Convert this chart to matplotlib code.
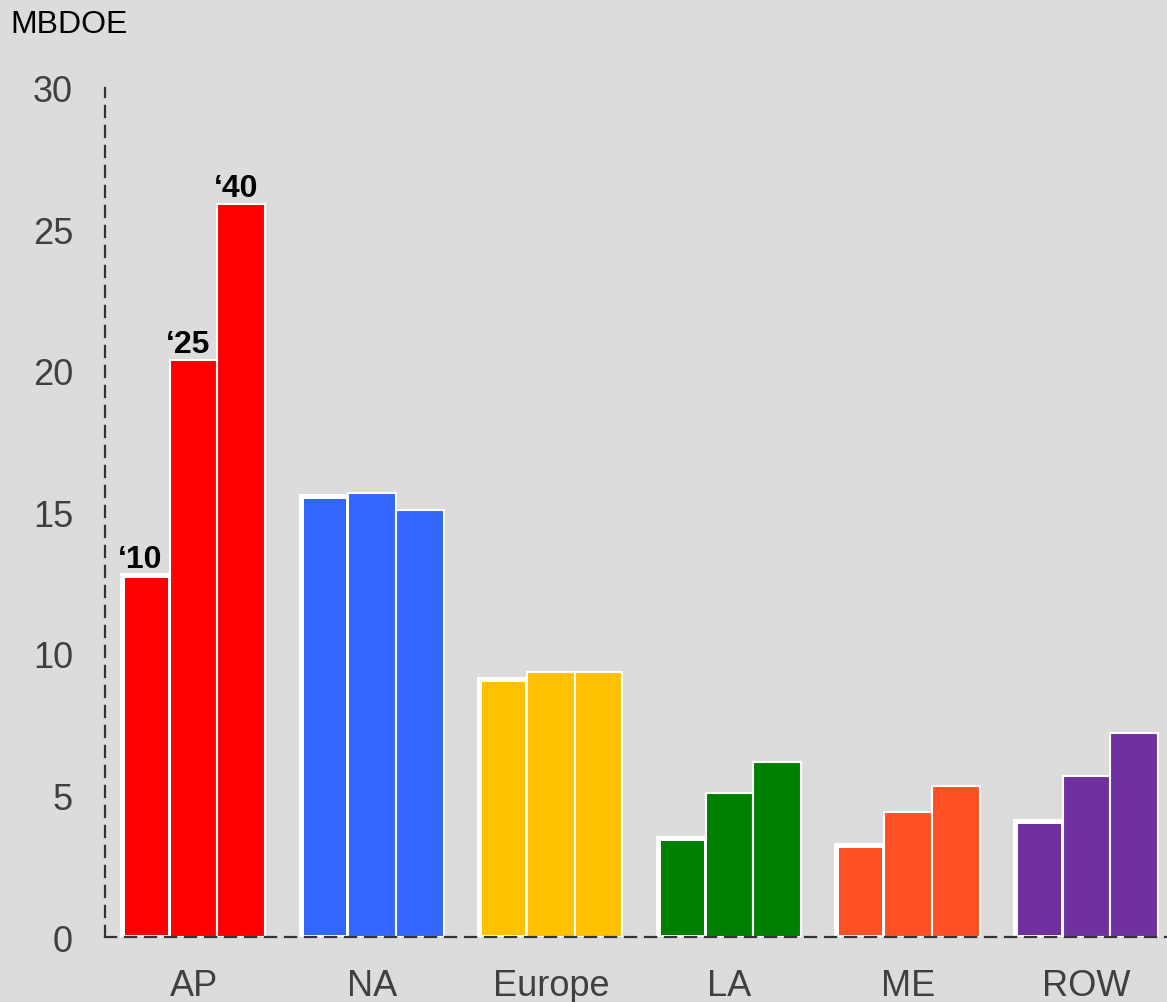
import matplotlib.pyplot as plt
import numpy as np

plt.rcParams['font.family'] = ['Liberation Sans', 'DejaVu Sans']

regions = ["AP", "NA", "Europe", "LA", "ME", "ROW"]
years = ["\u201810", "\u201825", "\u201840"]
v2010 = [12.8, 15.6, 9.1, 3.5, 3.25, 4.1]
v2025 = [20.4, 15.7, 9.35, 5.1, 4.4, 5.7]
v2040 = [25.9, 15.1, 9.35, 6.2, 5.35, 7.2]
colors = ["#FF0000", "#3366FF", "#FFC000", "#008000", "#FF4F24", "#7030A0"]

bg = "#DCDCDC"
fig = plt.figure(figsize=(11.67, 10.03), dpi=100, facecolor=bg)
ax = fig.add_axes([0.09, 0.0648, 0.91, 0.8465], facecolor=bg)

x = np.arange(len(regions))
w = 0.267
series = [v2010, v2025, v2040]
for i, vals in enumerate(series):
    lw = 3.6 if i == 0 else 1.5
    bars = ax.bar(x + (i - 1) * w, vals, w, color=colors, edgecolor="white",
                  linewidth=lw, zorder=2 + i)
    # year label over the AP bars
    b = bars[0]
    ax.text(b.get_x() + b.get_width() / 2 - 0.03, b.get_height() + 0.02, years[i],
            ha="center", va="bottom", fontsize=23, fontweight="bold", zorder=6)

ax.set_xlim(-0.496, 5.45)
ax.set_ylim(0, 30)
ax.set_yticks([0, 5, 10, 15, 20, 25, 30])
ax.set_xticks(x)
ax.set_xticklabels(regions)
ax.tick_params(length=0, labelsize=26, colors="#404040")
ax.tick_params(axis="x", pad=22)
ax.tick_params(axis="y", pad=23)

for s in ["top", "right"]:
    ax.spines[s].set_visible(False)
for s in ["left", "bottom"]:
    ax.spines[s].set_linestyle((0, (5, 4)))
    ax.spines[s].set_linewidth(1.6)
    ax.spines[s].set_color("#333333")
    ax.spines[s].set_zorder(10)

fig.text(0.009, 0.975, "MBDOE", fontsize=23, color="black", ha="left", va="center")

fig.savefig("out.png", dpi=100, facecolor=bg)
